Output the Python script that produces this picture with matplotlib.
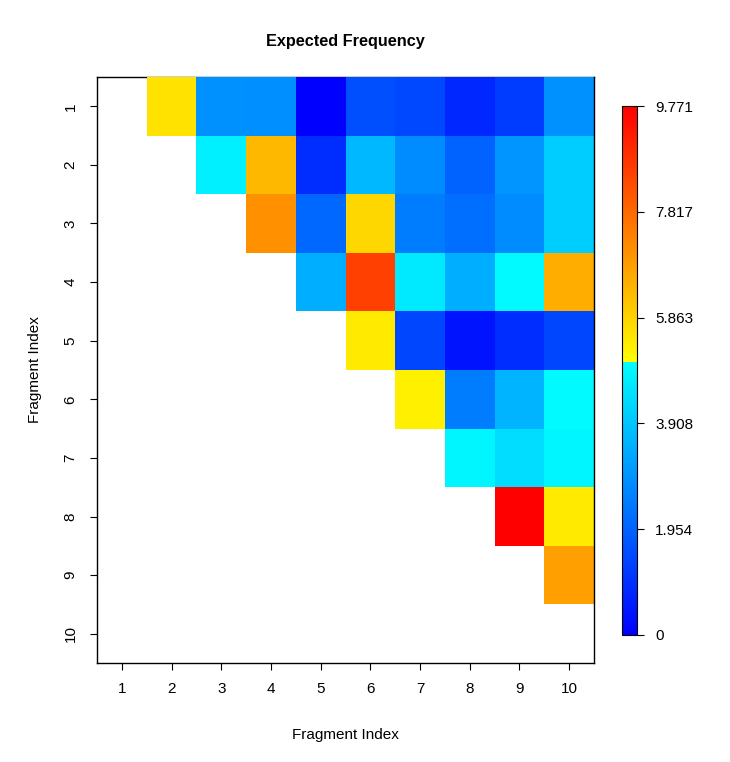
import numpy as np
import matplotlib
matplotlib.use('Agg')
import matplotlib.pyplot as plt
from matplotlib.colors import LinearSegmentedColormap

plt.rcParams['font.family'] = ['Liberation Sans', 'DejaVu Sans']

fragments = list(range(1, 11))
# upper triangle values, row i holds columns i+1..10
row1 = [5.60, 2.87, 2.85, 0.00, 1.58, 1.43, 0.80, 1.19, 2.87]
row2 = [4.75, 6.35, 0.90, 3.66, 2.77, 1.98, 2.97, 4.06]
row3 = [7.08, 2.08, 5.79, 2.48, 2.18, 2.77, 4.06]
row4 = [3.47, 8.57, 4.65, 3.47, 4.95, 6.53]
row5 = [5.42, 1.39, 0.40, 0.90, 1.39]
row6 = [5.33, 2.48, 3.56, 4.95]
row7 = [4.85, 4.36, 4.85]
row8 = [9.771, 5.42]
row9 = [6.81]
rows = [row1, row2, row3, row4, row5, row6, row7, row8, row9]

n = len(fragments)
freq = np.full((n, n), np.nan)
for i, r in enumerate(rows):
    freq[i, i + 1:] = r

vmax = np.nanmax(freq)
vmin = 0.0
brk = 5.05 / vmax  # where the palette jumps from cyan to yellow
cdict = {
    'red':   [(0, 0, 0), (brk, 0, 1), (1, 1, 1)],
    'green': [(0, 0, 0), (brk, 1, 1), (1, 0, 0)],
    'blue':  [(0, 1, 1), (brk, 1, 0), (1, 0, 0)],
}
cmap = LinearSegmentedColormap('bluered', cdict, N=256)

fs = 11.0
fig = plt.figure(figsize=(7.30, 7.62), dpi=100)
ax = fig.add_axes([97 / 730, 1 - 663 / 762, 497 / 730, 586 / 762])
edges = np.arange(0.5, n + 1.5)
# cells sit over the top frame line like in R's image()
mesh = ax.pcolormesh(edges, edges, freq, cmap=cmap, vmin=vmin, vmax=vmax, zorder=2.6)
ax.spines['right'].set_zorder(3)
ax.set_xlim(0.5, n + 0.5)
ax.set_ylim(n + 0.5, 0.5)
ax.set_xticks(fragments)
ax.set_yticks(fragments)
ax.set_xticklabels(fragments, fontsize=fs)
ax.set_yticklabels(fragments, fontsize=fs, rotation=90, va='center')
ax.tick_params(length=5, width=0.8, pad=9)
for s in ax.spines.values():
    s.set_linewidth(1.0)
ax.set_title('Expected Frequency', fontsize=11.7, fontweight='bold', pad=22)
ax.set_xlabel('Fragment Index', fontsize=fs, labelpad=23)
ax.set_ylabel('Fragment Index', fontsize=fs, labelpad=15.5)

cax = fig.add_axes([622 / 730, 1 - 635 / 762, 15 / 730, 529 / 762])
cb = fig.colorbar(mesh, cax=cax)
cb_ticks = np.linspace(vmin, vmax, 6)
cb.set_ticks(cb_ticks)
cb.set_ticklabels(['0'] + ['%.3f' % t for t in cb_ticks[1:]])
cax.tick_params(labelsize=fs, length=5, width=0.8, pad=8)
cb.outline.set_linewidth(0.8)

fig.savefig('out.png', dpi=100)
